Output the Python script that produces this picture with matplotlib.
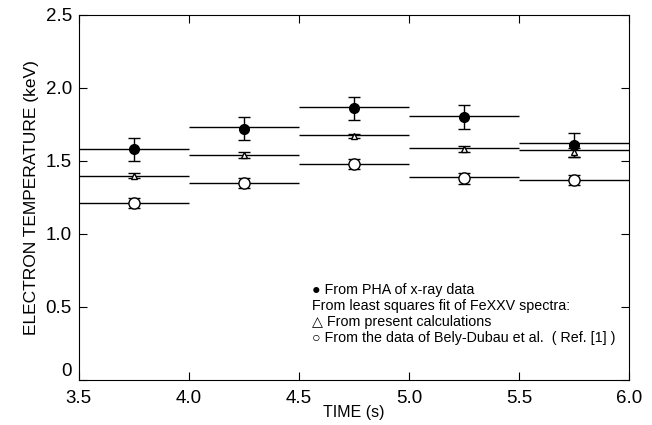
import numpy as np
import matplotlib
matplotlib.use("Agg")
import matplotlib.pyplot as plt

plt.rcParams['font.family'] = ['Liberation Sans', 'DejaVu Sans']

# Datos ---------------------------------
t_mid = [3.75, 4.25, 4.75, 5.25, 5.75]
t_lo = [3.5, 4.0, 4.5, 5.0, 5.5]
t_hi = [4.0, 4.5, 5.0, 5.5, 6.0]

pha = [1.58, 1.72, 1.86, 1.80, 1.61]
pha_err = [0.08, 0.08, 0.08, 0.08, 0.08]
pha_line = [1.58, 1.73, 1.87, 1.81, 1.62]

calc = [1.40, 1.54, 1.67, 1.58, 1.56]
calc_err = [0.015, 0.02, 0.015, 0.02, 0.03]
calc_line = [1.40, 1.54, 1.675, 1.59, 1.575]

bely = [1.21, 1.35, 1.48, 1.38, 1.37]
bely_err = [0.035, 0.035, 0.035, 0.035, 0.035]
bely_line = [1.21, 1.35, 1.48, 1.39, 1.37]

fig = plt.figure(figsize=(6.52, 4.25), dpi=100)
ax = fig.add_axes([0.121, 0.106, 0.844, 0.859])

ax.hlines(pha_line, t_lo, t_hi, color="black", lw=1)
ax.hlines(calc_line, t_lo, t_hi, color="black", lw=1)
ax.hlines(bely_line, t_lo, t_hi, color="black", lw=1)

ax.errorbar(t_mid, pha, yerr=pha_err, fmt="o", color="black", ms=7,
            capsize=4, elinewidth=1)
ax.errorbar(t_mid, calc, yerr=calc_err, fmt="^", color="black", ms=5,
            mfc="white", capsize=4, elinewidth=1)
ax.errorbar(t_mid, bely, yerr=bely_err, fmt="o", color="black", ms=8,
            mfc="white", capsize=4, elinewidth=1)

ax.set_xlim(3.5, 6.0)
ax.set_ylim(0, 2.5)
ax.set_xticks([3.5, 4.0, 4.5, 5.0, 5.5, 6.0])
ax.set_yticks([0, 0.5, 1.0, 1.5, 2.0, 2.5])
ax.set_yticklabels(["0", "0.5", "1.0", "1.5", "2.0", "2.5"])
ax.tick_params(direction="in", top=True, right=True, length=6,
               labelsize=13.5)
ax.tick_params(axis="x", pad=7)
ax.tick_params(axis="y", pad=5)
ax.get_yticklabels()[0].set_verticalalignment("bottom")
ax.set_xlabel("TIME (s)", fontsize=11.5, labelpad=-1)
ax.set_ylabel("ELECTRON TEMPERATURE (keV)", fontsize=12.5, labelpad=5)

# Leyenda --------------------------------
leyenda = ["\u25cf From PHA of x-ray data",
           "From least squares fit of FeXXV spectra:",
           "\u25b3 From present calculations",
           "\u25cb From the data of Bely-Dubau et al.  ( Ref. [1] )"]
for k, s in enumerate(leyenda):
    ax.text(0.424, 0.247 - k * 0.044, s, transform=ax.transAxes,
            fontsize=10.3, va="center", ha="left")

fig.savefig("out.png", dpi=100)
